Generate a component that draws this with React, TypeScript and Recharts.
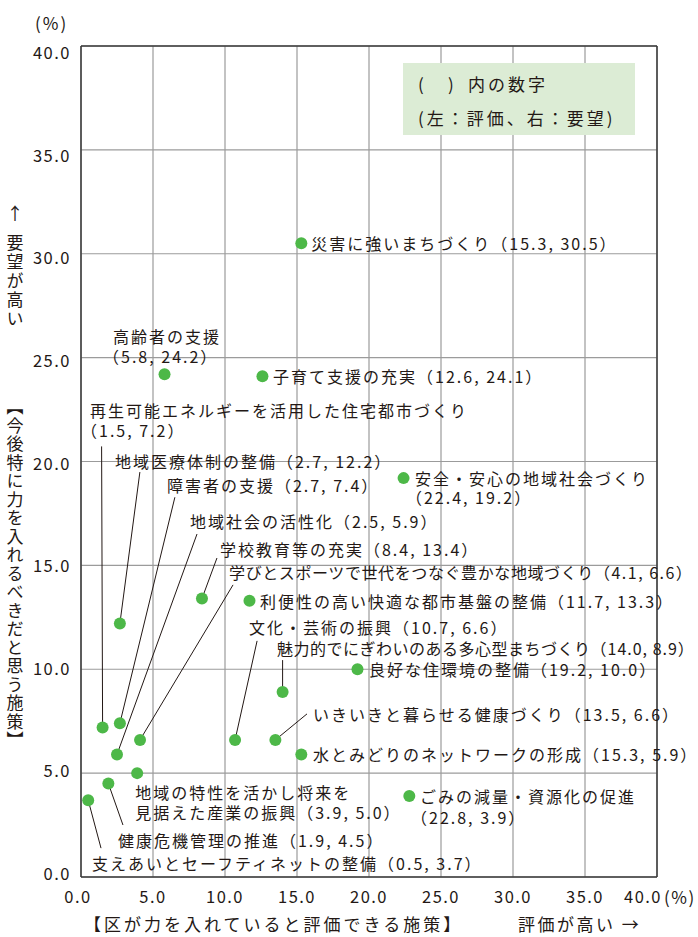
import React from "react";
import {
  ScatterChart,
  Scatter,
  XAxis,
  YAxis,
  CartesianGrid,
  ReferenceLine,
} from "recharts";

// 施策名と評価(x)・要望(y)の値
const policyNames = [
  "災害に強いまちづくり",
  "高齢者の支援",
  "子育て支援の充実",
  "再生可能エネルギーを活用した住宅都市づくり",
  "地域医療体制の整備",
  "障害者の支援",
  "安全・安心の地域社会づくり",
  "地域社会の活性化",
  "学校教育等の充実",
  "学びとスポーツで世代をつなぐ豊かな地域づくり",
  "利便性の高い快適な都市基盤の整備",
  "文化・芸術の振興",
  "魅力的でにぎわいのある多心型まちづくり",
  "良好な住環境の整備",
  "いきいきと暮らせる健康づくり",
  "水とみどりのネットワークの形成",
  "ごみの減量・資源化の促進",
  "地域の特性を活かし将来を見据えた産業の振興",
  "健康危機管理の推進",
  "支えあいとセーフティネットの整備",
];
const evaluation = [
  15.3, 5.8, 12.6, 1.5, 2.7, 2.7, 22.4, 2.5, 8.4, 4.1, 11.7, 10.7, 14.0, 19.2,
  13.5, 15.3, 22.8, 3.9, 1.9, 0.5,
];
const demand = [
  30.5, 24.2, 24.1, 7.2, 12.2, 7.4, 19.2, 5.9, 13.4, 6.6, 13.3, 6.6, 8.9, 10.0,
  6.6, 5.9, 3.9, 5.0, 4.5, 3.7,
];
const axisTicks = [0, 5, 10, 15, 20, 25, 30, 35, 40];

// label placement, pixel offsets from each dot
type Layout = {
  dx: number;
  dy: number;
  br?: "num" | number;
  dx2?: number;
  dy2?: number;
  lead?: [number, number];
  ls?: number;
  nls?: number;
};
const labelLayout: Layout[] = [
  { dx: 10, dy: 0 },
  { dx: -51.5, dy: -38, br: "num", dx2: -61.5, dy2: 20 },
  { dx: 10.6, dy: 0 },
  { dx: -12.6, dy: -317, br: "num", dx2: -21.6, dy2: 20, lead: [-1, -281] },
  { dx: -4.9, dy: -162.5, lead: [20, -151.5] },
  { dx: 47, dy: -238.3, lead: [55, -226] },
  { dx: 11.4, dy: 0, br: "num", dx2: 2.4, dy2: 19 },
  { dx: 73, dy: -233.4, lead: [80, -220.4] },
  { dx: 18, dy: -49.6, lead: [15, -40.6] },
  { dx: 89, dy: -168, lead: [93, -155], ls: 0.6, nls: 1.5 },
  { dx: 10.5, dy: 0 },
  { dx: 14, dy: -113, lead: [22, -99] },
  { dx: -5.6, dy: -44, lead: [0, -32], ls: 0.5, nls: 1 },
  { dx: 11.5, dy: 0 },
  { dx: 37.6, dy: -26, lead: [31.6, -26] },
  { dx: 11.7, dy: 0 },
  { dx: 10.7, dy: 0, br: "num", dx2: 1.7, dy2: 21 },
  { dx: -2, dy: 19, br: 12, dx2: -2, dy2: 20 },
  { dx: 9.6, dy: 56.5, lead: [14.6, 41.5] },
  { dx: 3.8, dy: 63, lead: [12.8, 48] },
];

const data = policyNames.map((name, i) => ({
  idx: i,
  name,
  x: evaluation[i],
  y: demand[i],
}));

const FONT = "'Noto Sans CJK JP', 'Noto Sans', sans-serif";
const INK = "#231815";
const GREEN = "#4db848";

const fmt = (v: number) => v.toFixed(1);

const LeaderShape = (props: any) => {
  const { cx, cy, payload } = props;
  const l = labelLayout[payload.idx];
  if (!l.lead) return <g />;
  return (
    <line
      x1={cx + l.lead[0]}
      y1={cy + l.lead[1]}
      x2={cx}
      y2={cy}
      stroke={INK}
      strokeWidth={1}
    />
  );
};

const DotShape = (props: any) => {
  const { cx, cy } = props;
  return <circle cx={cx} cy={cy} r={6} fill={GREEN} />;
};

const LabelShape = (props: any) => {
  const { cx, cy, payload } = props;
  const l = labelLayout[payload.idx];
  const ls = l.ls ?? 2;
  const numLs = l.nls ?? 2;
  const nums = `（${fmt(payload.x)}, ${fmt(payload.y)}）`;
  let a1 = payload.name;
  let n1 = nums;
  let a2 = "";
  let n2 = "";
  if (l.br === "num") {
    n1 = "";
    n2 = nums;
  } else if (typeof l.br === "number") {
    a1 = payload.name.slice(0, l.br);
    n1 = "";
    a2 = payload.name.slice(l.br);
    n2 = nums;
  }
  const style = { fontFamily: FONT, fontSize: 16, fill: INK };
  const x1 = cx + l.dx;
  const x2 = cx + (l.dx2 ?? l.dx);
  return (
    <text x={x1} y={cy + l.dy} dominantBaseline="central" style={style}>
      <tspan style={{ letterSpacing: ls }}>{a1}</tspan>
      {n1 && <tspan style={{ letterSpacing: numLs }}>{n1}</tspan>}
      {a2 && (
        <tspan x={x2} dy={l.dy2 ?? 20} style={{ letterSpacing: ls }}>
          {a2}
        </tspan>
      )}
      {n2 &&
        (a2 ? (
          <tspan style={{ letterSpacing: numLs }}>{n2}</tspan>
        ) : (
          <tspan x={x2} dy={l.dy2 ?? 20} style={{ letterSpacing: numLs }}>
            {n2}
          </tspan>
        ))}
    </text>
  );
};

const XTick = (props: any) => {
  const { x, y, payload } = props;
  const v = payload.value;
  const shift = v === 0 ? -3 : v === 40 ? -14 : 0;
  return (
    <text
      x={x + shift}
      y={y + 19}
      textAnchor="middle"
      dominantBaseline="central"
      style={{ fontFamily: FONT, fontSize: 16.5, letterSpacing: 1.5, fill: INK }}
    >
      {fmt(v)}
    </text>
  );
};

const YTick = (props: any) => {
  const { x, y, payload } = props;
  const v = payload.value;
  const off = 6 - (40 - v) * 0.25;
  return (
    <text
      x={x - 10}
      y={y + off}
      textAnchor="end"
      dominantBaseline="central"
      style={{ fontFamily: FONT, fontSize: 16.5, letterSpacing: 1.5, fill: INK }}
    >
      {fmt(v)}
    </text>
  );
};

const vStyle = (ls: number): React.CSSProperties => ({
  fontFamily: FONT,
  fontSize: 17,
  letterSpacing: ls,
  fill: INK,
  writingMode: "vertical-rl" as any,
});

export default function App() {
  return (
    <div style={{ position: "absolute", left: 0, top: 0, width: 698, height: 937, background: "#fff" }}>
      <ScatterChart
        width={698}
        height={937}
        margin={{ top: 46, right: 41, left: 0, bottom: 0 }}
      >
        <CartesianGrid stroke="#9b9b9b" strokeWidth={1.2} />
        <XAxis
          type="number"
          dataKey="x"
          domain={[0, 40]}
          ticks={axisTicks}
          interval={0}
          height={60}
          tickLine={false}
          tickSize={0}
          tickMargin={0}
          axisLine={{ stroke: "#3a3a3a", strokeWidth: 1.5 }}
          tick={<XTick />}
        />
        <YAxis
          type="number"
          dataKey="y"
          domain={[0, 40]}
          ticks={axisTicks}
          interval={0}
          width={81}
          tickLine={false}
          tickSize={0}
          tickMargin={0}
          axisLine={{ stroke: "#3a3a3a", strokeWidth: 1.5 }}
          tick={<YTick />}
        />
        <ReferenceLine y={40} stroke="#3a3a3a" strokeWidth={1.5} />
        <ReferenceLine x={40} stroke="#3a3a3a" strokeWidth={1.5} />
        <Scatter data={data} shape={LeaderShape} isAnimationActive={false} />
        <Scatter data={data} shape={DotShape} isAnimationActive={false} />
        <Scatter data={data} shape={LabelShape} isAnimationActive={false} />
      </ScatterChart>

      <svg
        width={698}
        height={937}
        style={{ position: "absolute", left: 0, top: 0, pointerEvents: "none" }}
      >
        {/* 凡例ボックス */}
        <rect x={403} y={63} width={232} height={72} fill="#dcecd5" />
        <g style={{ fontFamily: FONT, fontSize: 17, letterSpacing: 3, fill: INK }}>
          <text x={418} y={83} dominantBaseline="central">
            (
            <tspan x={448}>)</tspan>
            <tspan x={468}>内の数字</tspan>
            <tspan x={418} dy={34}>(左：評価、右：要望)</tspan>
          </text>
        </g>

        {/* 単位 */}
        <text x={35} y={22} dominantBaseline="central" style={{ fontFamily: FONT, fontSize: 17, letterSpacing: 2, fill: INK }}>
          (%)
        </text>
        <text x={664} y={896} dominantBaseline="central" style={{ fontFamily: FONT, fontSize: 17, letterSpacing: 1.5, fill: INK }}>
          (%)
        </text>

        {/* 軸タイトル */}
        <text x={84} y={923} dominantBaseline="central" style={{ fontFamily: FONT, fontSize: 17, letterSpacing: 3, fill: INK }}>
          【区が力を入れていると評価できる施策】
        </text>
        <text x={518} y={923} dominantBaseline="central" style={{ fontFamily: FONT, fontSize: 17, letterSpacing: 2.5, fill: INK }}>
          評価が高い →
        </text>
        <text x={15} y={212} textAnchor="middle" dominantBaseline="central" style={{ fontFamily: FONT, fontSize: 17, fill: INK }}>
          ↑
        </text>
        <text x={15} y={234} style={vStyle(2)}>
          要望が高い
        </text>
        <text x={15} y={398.5} style={vStyle(1.5)}>
          【今後特に力を入れるべきだと思う施策】
        </text>
      </svg>
    </div>
  );
}
